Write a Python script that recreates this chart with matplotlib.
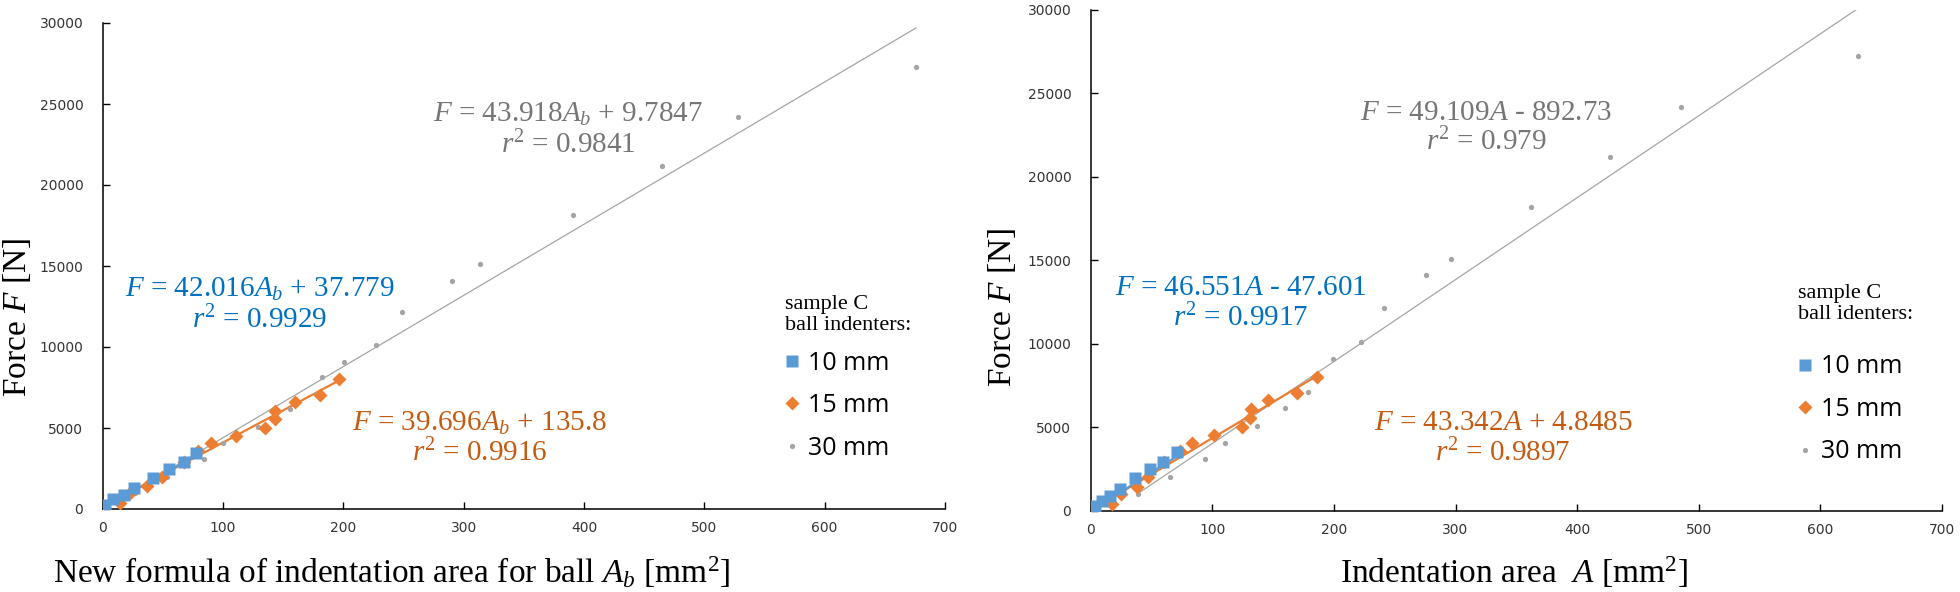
import numpy as np
import matplotlib
matplotlib.use("Agg")
import matplotlib.pyplot as plt

plt.rcParams['mathtext.fontset'] = 'custom'
plt.rcParams['mathtext.rm'] = 'Liberation Serif'
plt.rcParams['mathtext.it'] = 'Liberation Serif:italic'

# forces [N], shared by both panels
F10 = [240, 590, 890, 1300, 1930, 2470, 2920, 3480]
F15 = [400, 1000, 1400, 2000, 2930, 3550, 4050, 4500, 5020, 5560, 6060, 6620, 7060, 8020]
F30 = [1000, 2000, 3100, 4050, 5080, 6150, 7080, 8150, 9100, 10100, 12130, 14100, 15100,
       18170, 21170, 24210, 27270]

# left panel: new formula area A_b [mm2]
Ab10 = [2, 8.9, 17.3, 25.7, 42, 55.1, 67.7, 77.5]
Ab15 = [14.5, 22.9, 37, 49.6, 67.7, 79, 90.1, 110.6, 134.9, 143.3, 143.3, 159.6, 180.3, 196.6]
Ab30 = [27, 53.8, 84, 100, 129.4, 156, 177, 182, 200.8, 227.3, 248.9, 289.9, 313.8,
        390.6, 464.5, 527.8, 676]

# right panel: indentation area A [mm2]
A10 = [3.5, 9, 15.9, 24.1, 36.4, 48.8, 59.7, 70.7]
A15 = [17.3, 24.9, 37.8, 47.4, 60, 73.5, 83, 101.4, 124.2, 131, 131.9, 146.1, 169.4, 186]
A30 = [39.2, 65.2, 94, 110.5, 136.5, 159.8, 179, 186, 199.2, 222.3, 240.9, 275.3, 296.1,
       362.3, 426.8, 485.3, 631.1]

# trendlines (slope, intercept, r2) as printed on the chart
fitL = {"10": (42.016, 37.779, "0.9929"), "15": (39.696, 135.8, "0.9916"), "30": (43.918, 9.7847, "0.9841")}
fitR = {"10": (46.551, -47.601, "0.9917"), "15": (43.342, 4.8485, "0.9897"), "30": (49.109, -892.73, "0.979")}

blue, orange, gray = "#5B9BD5", "#ED7D31", "#A5A5A5"
tblue, torange, tgray = "#0070C0", "#C55A11", "#767676"
serif = "Liberation Serif"

fig = plt.figure(figsize=(19.6, 5.92), dpi=100)
W, H = 1960.0, 592.0
ax1 = fig.add_axes([102.7 / W, 1 - 509 / H, (945 - 102.7) / W, (509 - 23) / H])
ax2 = fig.add_axes([1090.7 / W, 1 - 510.5 / H, (1942 - 1090.7) / W, (510.5 - 10) / H])


def trend(ax, x, fit, color, lw):
    xs = np.array([min(x), max(x)])
    ax.plot(xs, fit[0] * xs + fit[1], color=color, lw=lw, zorder=2)


def eqtext(ax, x, y, fit, var, color):
    sign = "+" if fit[1] >= 0 else "-"
    s = "$F$ = %.3f$%s$ %s %s\n$r^2$ = %s" % (fit[0], var, sign, ("%g" % abs(fit[1])), fit[2])
    ax.text(x, y, s, ha="center", va="center", color=color, fontsize=21,
            family=serif, linespacing=1.1, zorder=5)


def panel(ax, x10, x15, x30, fit, title, tpos, lpos):
    h30, = ax.plot(x30, F30, "o", color=gray, ms=3.8, mec="none", zorder=3, label="30 mm")
    trend(ax, x30, fit["30"], gray, 0.9)
    h15, = ax.plot(x15, F15, "D", color=orange, ms=6.8, mec="none", zorder=4, label="15 mm")
    trend(ax, x15, fit["15"], orange, 1.6)
    h10, = ax.plot(x10, F10, "s", color=blue, ms=8, mec="none", zorder=5, label="10 mm")
    trend(ax, x10, fit["10"], blue, 1.6)

    ax.set_xlim(0, 700)
    ax.set_ylim(0, 30000)
    ax.set_xticks(np.arange(0, 701, 100))
    ax.set_yticks(np.arange(0, 30001, 5000))
    for s in ["top", "right"]:
        ax.spines[s].set_visible(False)
    for s in ["left", "bottom"]:
        ax.spines[s].set_linewidth(1.1)
    ax.tick_params(direction="in", length=5, width=1, labelsize=10, labelcolor="#333333")
    ax.tick_params(axis="y", pad=14)
    ax.tick_params(axis="x", pad=9)

    ax.text(tpos[0], tpos[1], title, transform=ax.transAxes, ha="left", va="center",
            fontsize=16, family=serif, linespacing=1.15)
    ax.legend(handles=[h10, h15, h30], loc="upper left", bbox_to_anchor=lpos,
              frameon=False, borderpad=0, borderaxespad=0,
              handlelength=0.6, handletextpad=0.35, labelspacing=0.7,
              prop={"family": "Open Sans", "size": 18})


# legend blocks placed in axes fraction
panel(ax1, Ab10, Ab15, Ab30, fitL, "sample C\nball indenters:", (0.810, 0.40), (0.8095, 0.326))
panel(ax2, A10, A15, A30, fitR, "sample C\nball identers:", (0.831, 0.412), (0.830, 0.312))

eqtext(ax1, 130.7, 12600, fitL["10"], "A_b", tblue)
eqtext(ax1, 313.6, 4350, fitL["15"], "A_b", torange)
eqtext(ax1, 386.7, 23400, fitL["30"], "A_b", tgray)

eqtext(ax2, 123.6, 12400, fitR["10"], "A", tblue)
eqtext(ax2, 339, 4300, fitR["15"], "A", torange)
eqtext(ax2, 325.2, 22910, fitR["30"], "A", tgray)

fig.text(392 / W, 1 - 572 / H, "New formula of indentation area for ball $A_b$ [mm$^2$]",
         ha="center", va="center", fontsize=24, family=serif)
fig.text(1514 / W, 1 - 572 / H, "Indentation area  $A$ [mm$^2$]",
         ha="center", va="center", fontsize=24, family=serif)
fig.text(17 / W, 1 - 318 / H, "Force $F$ [N]", rotation=90,
         ha="center", va="center", fontsize=24, family=serif)
fig.text(1001.7 / W, 1 - 308 / H, "Force $F$ [N]", rotation=90,
         ha="center", va="center", fontsize=24, family=serif)

fig.savefig("out.png", dpi=100)
